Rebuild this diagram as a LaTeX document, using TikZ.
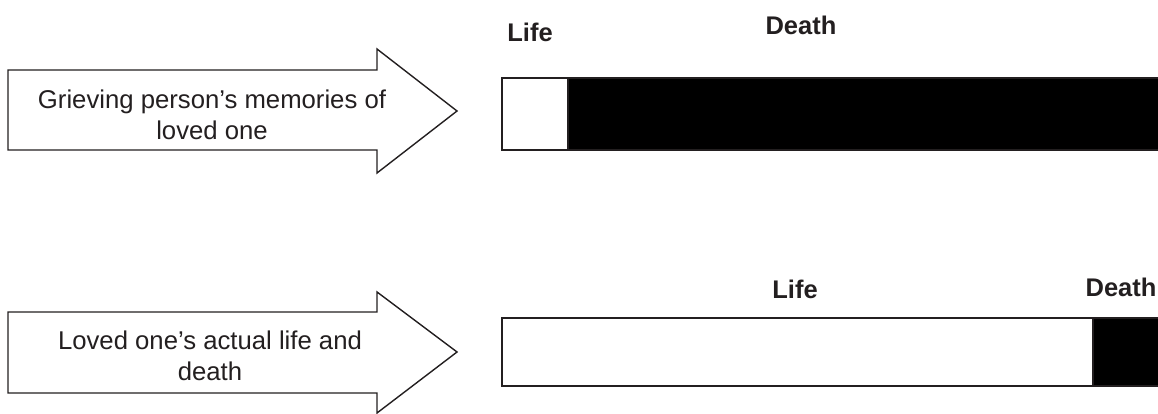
\documentclass[tikz,border=0pt]{standalone}
\usepackage{fontspec}
\setmainfont{Liberation Sans}
\usetikzlibrary{positioning}
\definecolor{ink}{HTML}{231F20}

\begin{document}
\begin{tikzpicture}[
  x=1pt, y=-1pt,
  pointer/.style={draw=ink, line width=1.4pt, fill=white, line join=miter},
  bar/.style={draw=ink, line width=1.4pt},
  caption/.style={font=\fontsize{25.7}{31}\selectfont, align=center, text=ink, inner sep=0pt},
  tag/.style={font=\fontsize{25.5}{30}\selectfont\bfseries, text=ink, inner sep=0pt}
]
\useasboundingbox (0,0) rectangle (1158,414);

% Memories row
\draw[pointer] (8,70) -- (377,70) -- (377,49) -- (457,111) -- (377,173) -- (377,150) -- (8,150) -- cycle;
\node[caption] (memtext) at (212,115) {Grieving person’s memories of\\loved one};
\fill[black] (568,78) rectangle (1158,150);
\draw[bar] (1160,78) -- (502,78) -- (502,150) -- (1160,150);
\draw[bar] (568,78) -- (568,150);
\node[tag] (memlife) at (530,32) {Life};
\node[tag] (memdeath) at (801,25) {Death};

% Actual row
\draw[pointer] (8,312) -- (377,312) -- (377,292) -- (457,352) -- (377,413) -- (377,393) -- (8,393) -- cycle;
\node[caption] (acttext) at (210,356) {Loved one’s actual life and\\death};
\fill[black] (1093,318) rectangle (1158,386);
\draw[bar] (1160,318) -- (502,318) -- (502,386) -- (1160,386);
\draw[bar] (1093,318) -- (1093,386);
\node[tag] (actlife) at (795,289) {Life};
\node[tag] (actdeath) at (1121,287) {Death};
\end{tikzpicture}
\end{document}
